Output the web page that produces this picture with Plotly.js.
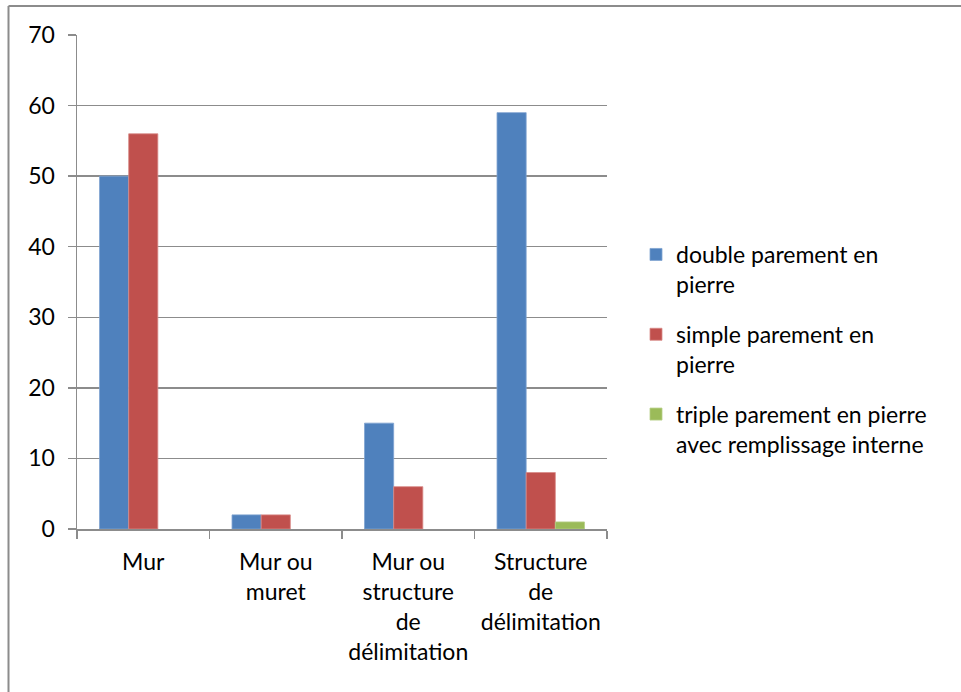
<!DOCTYPE html>
<html>
<head>
<meta charset="utf-8">
<script src="https://cdn.plot.ly/plotly-3.0.1.min.js"></script>
<style>html,body{margin:0;padding:0;background:#fff;}#chart{width:961px;height:692px;}</style>
</head>
<body>
<div id="chart"></div>
<script>
const categories = ["Mur", "Mur ou<br>muret", "Mur ou<br>structure<br>de<br>délimitation", "Structure<br>de<br>délimitation"];
const seriesNames = ["double parement en<br>pierre", "simple parement en<br>pierre", "triple parement en pierre<br>avec remplissage interne"];
const doubleParement = [50, 2, 15, 59];
const simpleParement = [56, 2, 6, 8];
const tripleParement = [null, null, null, 1];
const colors = ["#4F81BD", "#C0504D", "#9BBB59"];
const edgeColors = ["#7FA3D0", "#D88A88", "#B5CE86"];
const yTicks = [0, 10, 20, 30, 40, 50, 60, 70];

const FONT = "Lato, 'Noto Sans', sans-serif";
const FS = 23;
const values = [doubleParement, simpleParement, tripleParement];
const traces = values.map((v, i) => ({
  type: "bar",
  name: seriesNames[i],
  x: categories,
  y: v,
  marker: {color: colors[i], line: {width: 0.8, color: edgeColors[i]}},
  legendgroup: "g" + i,
  hoverinfo: "y"
}));

const L = 77, R = 607, T = 35, B = 529, W = 961, H = 692;
const pw = R - L, ph = B - T;
const gray = "#8c8c8c";

const layout = {
  width: W, height: H,
  margin: {l: L, r: W - R, t: T, b: H - B, pad: 0},
  paper_bgcolor: "#fff", plot_bgcolor: "#fff",
  font: {family: FONT, size: FS, color: "#000"},
  barmode: "group",
  bargap: 0.34,
  bargroupgap: 0,
  showlegend: true,
  legend: {
    x: (636 - L) / pw, xanchor: "left",
    y: (B - 233) / ph, yanchor: "top",
    font: {family: FONT, size: FS, color: "#000"},
    valign: "top",
    traceorder: "grouped",
    tracegroupgap: 17,
    bgcolor: "rgba(0,0,0,0)"
  },
  xaxis: {
    type: "category",
    showline: true, linecolor: gray, linewidth: 1.5,
    ticks: "outside", tickson: "boundaries", ticklen: 8, tickcolor: gray, tickwidth: 1.5,
    showgrid: false,
    tickfont: {family: FONT, size: FS, color: "#000"},
    ticklabelstandoff: 12
  },
  yaxis: {
    range: [0, 70],
    tickvals: yTicks,
    ticktext: yTicks.map(String),
    showline: true, linecolor: gray, linewidth: 1.5,
    ticks: "outside", ticklen: 8, tickcolor: gray, tickwidth: 1.5,
    showgrid: true, gridcolor: gray, gridwidth: 1.5,
    zeroline: false,
    tickfont: {family: FONT, size: FS, color: "#000"},
    ticklabelstandoff: 8
  },
  shapes: [
    {type: "line", xref: "paper", yref: "paper",
     x0: (8.5 - L) / pw, x1: (8.5 - L) / pw, y0: (B - 6) / ph, y1: (B - H - 5) / ph,
     line: {color: gray, width: 2}},
    {type: "line", xref: "paper", yref: "paper",
     x0: (8.5 - L) / pw, x1: (W + 5 - L) / pw, y0: (B - 6) / ph, y1: (B - 6) / ph,
     line: {color: gray, width: 2}}
  ]
};

Plotly.newPlot("chart", traces, layout, {displayModeBar: false, staticPlot: true});
</script>
</body>
</html>
